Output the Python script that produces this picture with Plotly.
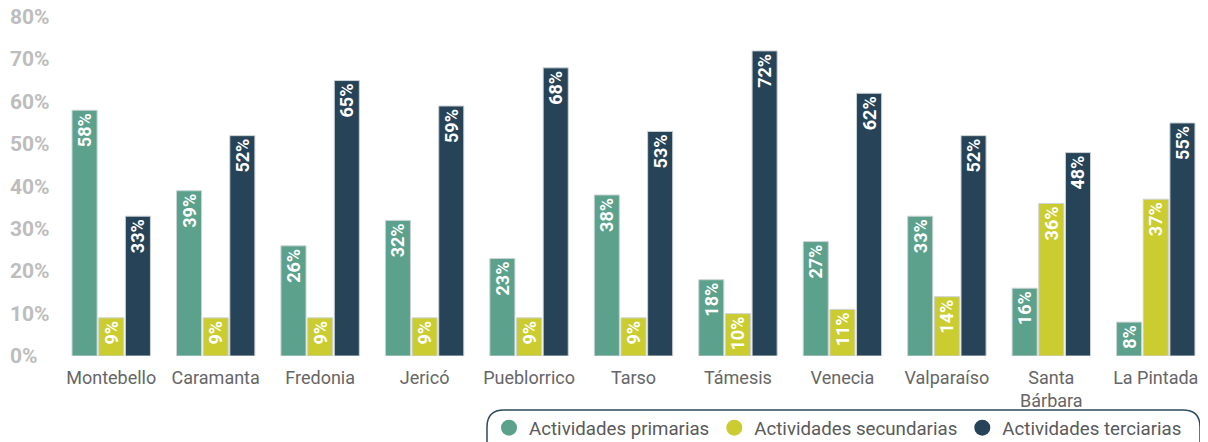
import plotly.graph_objects as go

categories = ["Montebello", "Caramanta", "Fredonia", "Jericó", "Pueblorrico", "Tarso",
              "Támesis", "Venecia", "Valparaíso", "Santa<br>Bárbara", "La Pintada"]
primarias = [58, 39, 26, 32, 23, 38, 18, 27, 33, 16, 8]
secundarias = [9, 9, 9, 9, 9, 9, 10, 11, 14, 36, 37]
terciarias = [33, 52, 65, 59, 68, 53, 72, 62, 52, 48, 55]
series_names = ["Actividades primarias", "Actividades secundarias", "Actividades terciarias"]
colors = ["#5ba18b", "#cacc30", "#264358"]
y_ticks = [0, 10, 20, 30, 40, 50, 60, 70, 80]

# page body adds an 8px margin; figure coords = screen coords - 8
OFF = 8
W, H = 1208 - OFF, 442 - OFF
L, R, T, B = 51, 0, 17 - OFF, 86
pw, ph = W - L - R, H - T - B

fig = go.Figure()
for name, vals, col in zip(series_names, [primarias, secundarias, terciarias], colors):
    fig.add_trace(go.Bar(
        x=categories, y=vals, name=name, showlegend=False,
        marker=dict(color=col, line=dict(color="#cdd3d6", width=1)),
        text=[f"{v}%" for v in vals], textposition="inside", insidetextanchor="end",
        textangle=-90, constraintext="none",
        textfont=dict(family="Roboto", size=18, color="white", weight="bold"),
        hoverinfo="skip",
    ))
for name, col in zip(series_names, colors):
    fig.add_trace(go.Scatter(
        x=[categories[0]], y=[None], mode="markers", name=name,
        marker=dict(symbol="circle", size=18, color=col), showlegend=True,
    ))

def sx(p):  # screen px -> paper x
    return (p - OFF - L) / pw

def sy(p):  # screen px -> paper y
    return (H - B - (p - OFF)) / ph

annotations = []
for t in y_ticks:
    annotations.append(dict(
        x=sx(8), xref="paper", y=t, yref="y", xanchor="left", yanchor="middle",
        text=f"{t}%", showarrow=False, height=16, valign="middle",
        font=dict(family="Roboto", size=21, color="#bdbdbd", weight="bold"),
    ))

x0, x1 = sx(487), sx(1200)
y0, y1 = sy(410), sy(460)
rx, ry = 17 / pw, 17 / ph
path = (f"M {x0+rx} {y0} L {x1-rx} {y0} Q {x1} {y0} {x1} {y0-ry} "
        f"L {x1} {y1+ry} Q {x1} {y1} {x1-rx} {y1} L {x0+rx} {y1} "
        f"Q {x0} {y1} {x0} {y1+ry} L {x0} {y0-ry} Q {x0} {y0} {x0+rx} {y0} Z")

fig.update_layout(
    width=W, height=H,
    margin=dict(l=L, r=R, t=T, b=B, autoexpand=False),
    plot_bgcolor="white", paper_bgcolor="white",
    barmode="group", bargap=0.234, bargroupgap=0.06,
    font=dict(family="Roboto", color="#666666"),
    xaxis=dict(range=[-0.5, len(categories) - 0.5], showgrid=False, showline=False,
               ticks="outside", ticklen=5, tickcolor="rgba(0,0,0,0)", zeroline=False,
               tickfont=dict(family="Roboto", size=18, color="#666666")),
    yaxis=dict(range=[0, 80], showgrid=False, zeroline=False, showticklabels=False,
               tickvals=y_ticks),
    legend=dict(orientation="h", x=sx(489), xanchor="left", y=sy(428), yanchor="middle",
                font=dict(family="Roboto", size=18.7, color="#5a5a5a"),
                bgcolor="rgba(0,0,0,0)", tracegroupgap=0),
    annotations=annotations,
    shapes=[dict(type="path", path=path, xref="paper", yref="paper",
                 line=dict(color="#2c4a5e", width=1.5), fillcolor="rgba(0,0,0,0)", layer="below")],
)

fig.write_html("out.html")
